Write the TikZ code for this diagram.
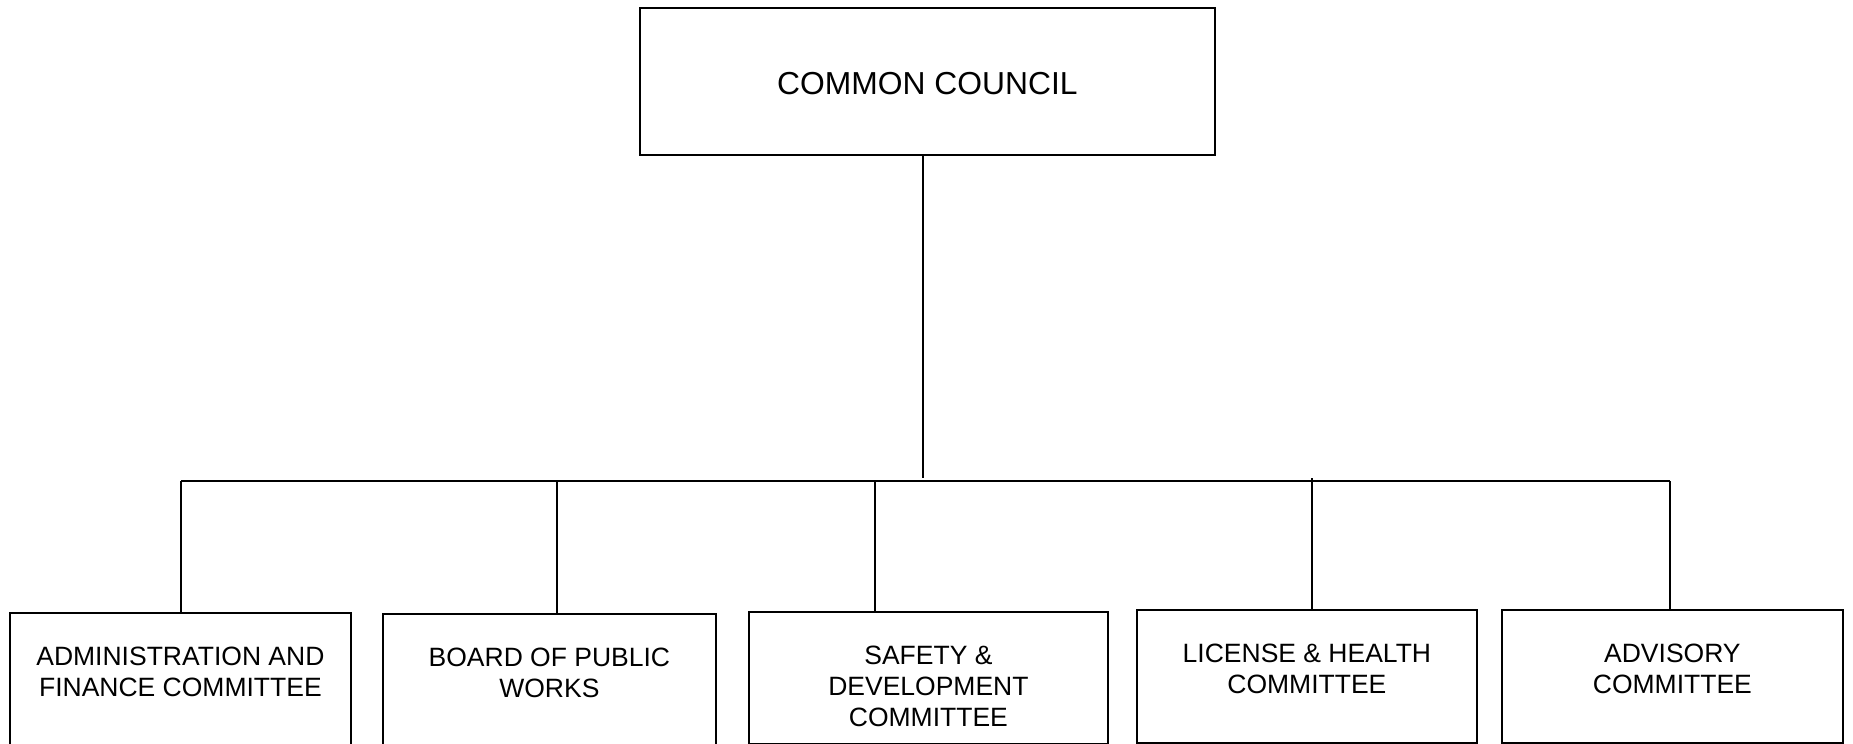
\documentclass[tikz,border=0pt]{standalone}
\usepackage{fontspec}
\setmainfont{Liberation Sans}
\usetikzlibrary{positioning}

\begin{document}
\begin{tikzpicture}[x=1pt,y=-1pt,
    boite/.style={draw,line width=1.8pt,rectangle,anchor=north west,inner sep=0pt},
    texte/.style={anchor=north,align=center,inner sep=0pt,font=\fontsize{26.5}{30.7}\selectfont},
    trait/.style={line width=1.3pt}]
  \useasboundingbox (0,0) rectangle (1853,744);

  % Conseil
  \node[boite,minimum width=575pt,minimum height=147pt] (conseil) at (639,7) {};
  \node[font=\fontsize{31.8}{38}\selectfont,inner sep=0pt] (conseil-t) at ([yshift=-2.5pt]conseil.center) {COMMON COUNCIL};

  % Commissions
  \node[boite,minimum width=341pt,minimum height=150pt] (adm) at (9,612) {};
  \node[boite,minimum width=333pt,minimum height=150pt] (trav) at (382,613) {};
  \node[boite,minimum width=359pt,minimum height=132pt] (secu) at (748,611) {};
  \node[boite,minimum width=340pt,minimum height=133pt] (lic) at (1136,609) {};
  \node[boite,minimum width=341pt,minimum height=133pt] (avis) at (1501,609) {};

  % Textes des commissions
  \node[texte] (adm-t) at ([yshift=-35pt]adm.north) {ADMINISTRATION AND\\FINANCE COMMITTEE};
  \node[texte] (trav-t) at ([yshift=-35pt]trav.north) {BOARD OF PUBLIC\\WORKS};
  \node[texte] (secu-t) at ([yshift=-35pt]secu.north) {SAFETY \&\\DEVELOPMENT\\COMMITTEE};
  \node[texte] (lic-t) at ([yshift=-35pt]lic.north) {LICENSE \& HEALTH\\COMMITTEE};
  \node[texte] (avis-t) at ([yshift=-35pt]avis.north) {ADVISORY\\COMMITTEE};

  % Liaisons
  \coordinate (jn) at (923,478);
  \coordinate (b1) at (181,481);
  \coordinate (b2) at (557,481);
  \coordinate (b3) at (875,481);
  \coordinate (b4) at (1312,478);
  \coordinate (b5) at (1670,481);
  \draw[trait] (jn |- conseil.south) -- (jn);
  \draw[line width=1.7pt] (b1) -- (b5);
  \foreach \b/\n in {b1/adm,b2/trav,b3/secu,b4/lic,b5/avis} {
      \draw[trait] (\b) -- (\b |- \n.north);
    }
\end{tikzpicture}
\end{document}
